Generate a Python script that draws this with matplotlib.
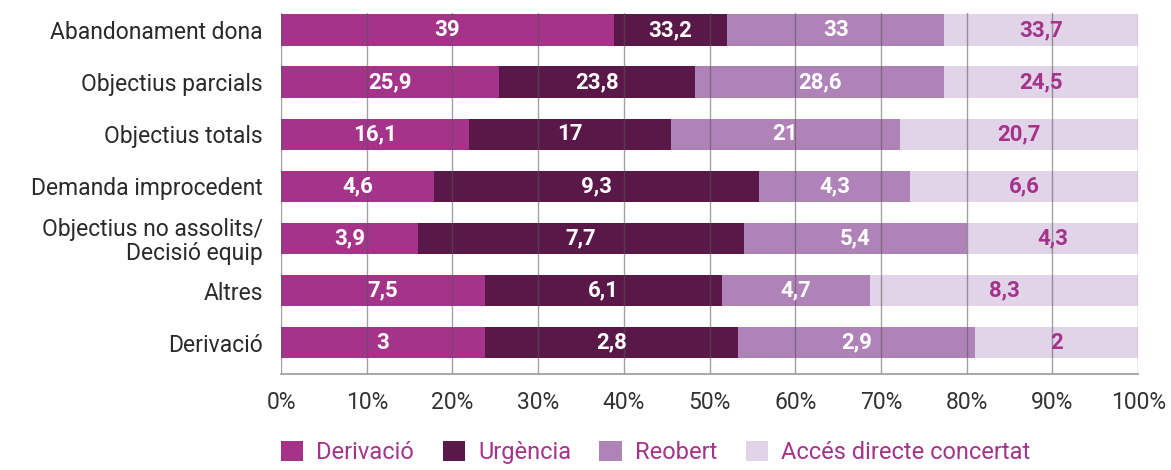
import matplotlib.pyplot as plt
from matplotlib.patches import Patch
import numpy as np

# categories, top to bottom
categories = ["Abandonament dona", "Objectius parcials", "Objectius totals",
              "Demanda improcedent", "Objectius no assolits/\nDecisió equip",
              "Altres", "Derivació"]
series = ["Derivació", "Urgència", "Reobert", "Accés directe concertat"]

# segment widths as share of the bar (%)
derivacio = [38.8, 25.4, 21.9, 17.9, 16.0, 23.8, 23.8]
urgencia = [13.2, 22.9, 23.6, 37.9, 38.0, 27.7, 29.5]
reobert = [25.4, 29.1, 26.7, 17.6, 26.0, 17.2, 27.7]
acces = [22.6, 22.6, 27.8, 26.6, 20.0, 31.3, 19.0]

# printed values on the segments
lab_derivacio = ["39", "25,9", "16,1", "4,6", "3,9", "7,5", "3"]
lab_urgencia = ["33,2", "23,8", "17", "9,3", "7,7", "6,1", "2,8"]
lab_reobert = ["33", "28,6", "21", "4,3", "5,4", "4,7", "2,9"]
lab_acces = ["33,7", "24,5", "20,7", "6,6", "4,3", "8,3", "2"]

colors = ["#a5338a", "#5a1848", "#b083b8", "#e1d3e8"]
text_colors = ["white", "white", "white", "#a5338a"]

plt.rcParams["font.family"] = ["Roboto", "DejaVu Sans"]

fig = plt.figure(figsize=(11.71, 4.70), dpi=100)
ax = fig.add_axes([0.24, 0.204, 0.732, 0.768])

y = np.arange(len(categories))
widths = [derivacio, urgencia, reobert, acces]
labels = [lab_derivacio, lab_urgencia, lab_reobert, lab_acces]
left = np.zeros(len(categories))
for w, lab, c, tc in zip(widths, labels, colors, text_colors):
    w = np.array(w)
    ax.barh(y, w, left=left, height=0.6, color=c, zorder=1)
    for yi, (l0, wi, t) in enumerate(zip(left, w, lab)):
        ax.text(l0 + wi / 2, yi, t, ha="center", va="center", color=tc,
                fontsize=16, fontweight="bold", zorder=3)
    left += w

ax.set_xlim(0, 100)
ax.set_ylim(6.6, -0.32)
ax.set_yticks(y)
ax.set_yticklabels(categories, fontsize=16.5, color="#2a2a2a", linespacing=1.05)
ax.set_xticks(np.arange(0, 101, 10))
ax.set_xticklabels([f"{v}%" for v in range(0, 101, 10)], fontsize=16.5, color="#333333")
ax.tick_params(axis="y", length=0, pad=13)
ax.tick_params(axis="x", length=0, pad=12)

for s in ["top", "right", "left"]:
    ax.spines[s].set_visible(False)
ax.spines["bottom"].set_color("#999999")
ax.spines["bottom"].set_linewidth(1.2)

for xv in range(0, 101, 10):
    ax.axvline(xv, color="#555555", lw=1, alpha=0.55, zorder=2)

handles = [Patch(facecolor=c, label=s) for c, s in zip(colors, series)]
leg = fig.legend(handles=handles, loc="upper left", bbox_to_anchor=(0.24, 0.062),
                 ncol=4, frameon=False, fontsize=17, handlelength=0.95,
                 handleheight=0.95, handletextpad=0.55, columnspacing=1.2,
                 borderaxespad=0, borderpad=0)
for t in leg.get_texts():
    t.set_color("#a5338a")

fig.savefig("out.png", dpi=100)
